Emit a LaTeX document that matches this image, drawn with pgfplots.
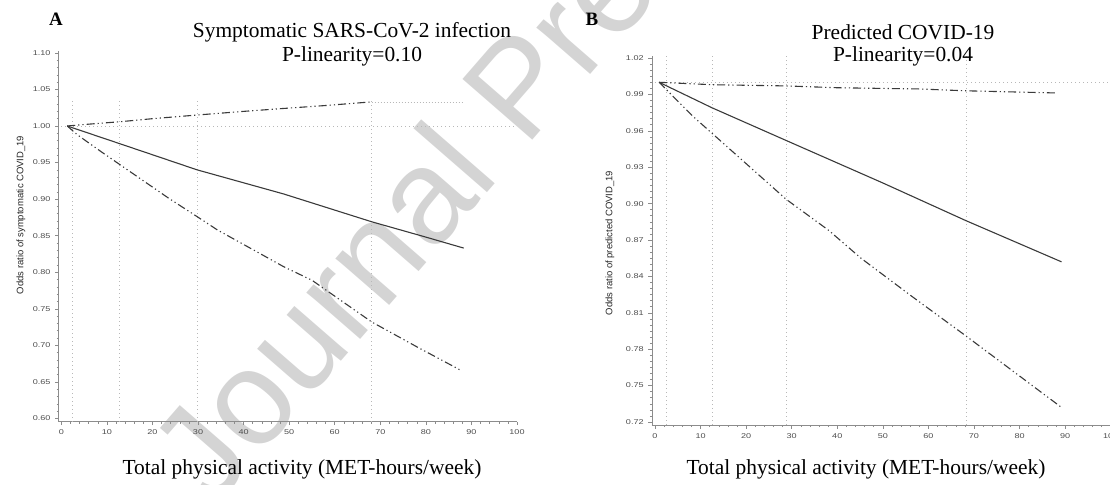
\documentclass[border=0pt]{standalone}
\usepackage{fontspec}
\setmainfont{Liberation Serif}
\setsansfont{Liberation Sans}
\newfontfamily\tickfont[FakeStretch=1.3]{Liberation Sans}
\usepackage{pgfplots}
\pgfplotsset{compat=1.18}

\definecolor{curve}{HTML}{3A3A3A}
\definecolor{refl}{HTML}{B8B8B8}
\definecolor{wmark}{HTML}{D4D4D4}

\pgfplotsset{
  sasax/.style={
    scale only axis, clip=false,
    axis lines*=left,
    xmin=-0.6, xmax=100,
    xtick={0,10,...,100}, minor x tick num=4,
    tick align=outside,
    major tick length=3.5bp, minor tick length=2bp,
    axis line style={black!45, line width=0.6bp},
    every tick/.style={black!45, line width=0.5bp},
    tick label style={font=\tickfont\fontsize{7}{8}\selectfont, text=black!70, inner sep=1.5bp},
    xticklabel style={yshift=-3bp},
    yticklabel style={xshift=-3bp, /pgf/number format/.cd, fixed, fixed zerofill, precision=2},
    /pgf/number format/assume math mode=true,
  },
  est/.style={curve, line width=1.1bp},
  ci/.style={curve, line width=1.1bp, dash pattern=on 8bp off 3bp on 1.2bp off 3bp on 1.2bp off 3bp},
  ref/.style={refl, line width=0.8bp, dash pattern=on 1bp off 3bp},
}

\begin{document}
\begin{tikzpicture}
\path[use as bounding box] (0,0) rectangle (1110bp,485bp);

% watermark
\node[anchor=base west, rotate=49, text=wmark, inner sep=0pt,
      font=\sffamily\fontsize{135}{135}\selectfont] at (212bp,-25bp) {Journal Pre-proof};

% panel A
\begin{axis}[sasax,
  at={(58.6bp,63.3bp)}, anchor=south west,
  width=458.4bp, height=371bp,
  ymin=0.5955, ymax=1.103,
  ytick={0.60,0.65,0.70,0.75,0.80,0.85,0.90,0.95,1.00,1.05,1.10},
  minor y tick num=4]
\addplot[ref] coordinates {(2.4,0.5955) (2.4,1.034)};
\addplot[ref] coordinates {(12.7,0.5955) (12.7,1.034)};
\addplot[ref] coordinates {(29.8,0.5955) (29.8,1.034)};
\addplot[ref] coordinates {(68.1,0.5955) (68.1,1.034)};
\addplot[ref] coordinates {(0,1.00) (100,1.00)};
% upper limit
\addplot[ci] coordinates {
(1.3,1.000) (5,1.002) (13.2,1.006) (20,1.010) (29.8,1.015) (40,1.020)
(48.8,1.024) (58,1.028) (68.1,1.033)};
\addplot[refl, line width=0.7bp, dash pattern=on 1bp off 2bp] coordinates {(68.1,1.033) (88.3,1.033)};
% estimate
\addplot[est] coordinates {
(1.3,1.000) (13.2,0.975) (29.8,0.940) (48.8,0.907) (68.1,0.869) (80,0.848) (88.3,0.833)};
% lower limit
\addplot[ci] coordinates {
(1.3,1.000) (3.5,0.988) (8.7,0.965) (23.6,0.901) (29.8,0.876) (34.2,0.858)
(48.8,0.8075) (55,0.789) (68.1,0.732) (78,0.698) (87.6,0.666)};
\end{axis}

% panel B
\begin{axis}[sasax,
  at={(651.8bp,60bp)}, anchor=south west,
  width=458.9bp, height=369.4bp,
  xmin=-0.7,
  ymin=0.7175, ymax=1.022,
  ytick={0.72,0.75,0.78,0.81,0.84,0.87,0.90,0.93,0.96,0.99,1.02},
  minor y tick num=5]
\addplot[ref] coordinates {(2.4,0.7175) (2.4,1.022)};
\addplot[ref] coordinates {(12.7,0.7175) (12.7,1.022)};
\addplot[ref] coordinates {(28.8,0.7175) (28.8,1.022)};
\addplot[ref] coordinates {(68.3,0.7175) (68.3,1.022)};
\addplot[ref] coordinates {(0,1.00) (100,1.00)};
% upper limit
\addplot[ci] coordinates {
(0.9,1.000) (12.5,0.998) (28.8,0.997) (40,0.9955) (58,0.9945) (68,0.993) (88,0.9912)};
% estimate
\addplot[est] coordinates {
(0.9,1.000) (12.5,0.979) (28.8,0.952) (50,0.917) (68.2,0.886) (89.2,0.852)};
% lower limit
\addplot[ci] coordinates {
(0.9,1.000) (8.3,0.972) (12.5,0.958) (28.8,0.9035) (38.1,0.878) (45.2,0.855)
(56.2,0.824) (68.2,0.791) (89.2,0.732)};
\end{axis}

% panel letters and titles
\node[font=\bfseries\fontsize{19}{19}\selectfont] at (56bp,466bp) {A};
\node[font=\bfseries\fontsize{19}{19}\selectfont] at (592bp,466bp) {B};
\node[font=\fontsize{21.5}{24}\selectfont] at (352bp,453bp) {Symptomatic SARS-CoV-2 infection};
\node[font=\fontsize{21.5}{24}\selectfont] at (352bp,429bp) {P-linearity=0.10};
\node[font=\fontsize{21.5}{24}\selectfont] at (903bp,453bp) {Predicted COVID-19};
\node[font=\fontsize{21.5}{24}\selectfont] at (903bp,429bp) {P-linearity=0.04};
\node[font=\fontsize{21.5}{24}\selectfont] at (302bp,16bp) {Total physical activity (MET-hours/week)};
\node[font=\fontsize{21.5}{24}\selectfont] at (866bp,16bp) {Total physical activity (MET-hours/week)};

% y axis labels
\node[rotate=90, font=\sffamily\fontsize{9.5}{10}\selectfont, text=black!85] at (21bp,270bp) {Odds ratio of symptomatic COVID\_19};
\node[rotate=90, font=\sffamily\fontsize{9.5}{10}\selectfont, text=black!85] at (610bp,242bp) {Odds ratio of predicted COVID\_19};
\end{tikzpicture}
\end{document}
